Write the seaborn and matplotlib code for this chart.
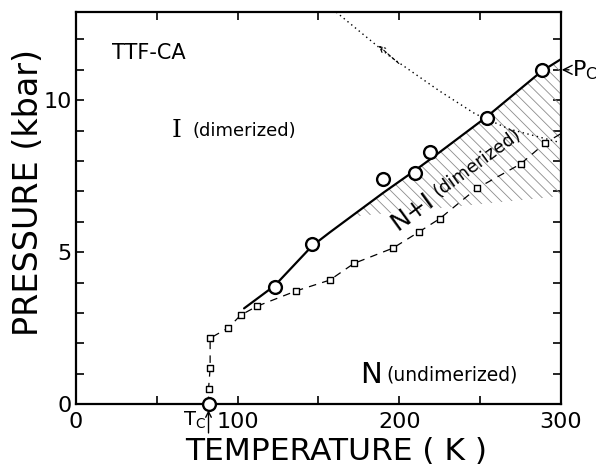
import numpy as np
import matplotlib
matplotlib.use("Agg")
import matplotlib.pyplot as plt
import seaborn as sns

# circles: I-N transition (kbar vs K)
circle_t = [82, 123, 146, 190, 210, 219, 254, 288]
circle_p = [0.0, 3.85, 5.26, 7.4, 7.6, 8.29, 9.41, 11.0]

# squares
square_t = [82, 83, 83, 94, 102, 112, 136, 157, 172, 196, 212, 225, 248, 275, 290]
square_p = [0.49, 1.18, 2.17, 2.5, 2.93, 3.22, 3.72, 4.08, 4.63, 5.13, 5.66, 6.1, 7.1, 7.9, 8.58]

# solid boundary
solid_t = [104, 123, 146, 157, 190, 210, 219, 254, 288, 300]
solid_p = [3.15, 3.9, 5.2, 5.65, 6.95, 7.7, 8.05, 9.45, 10.95, 11.35]

# dashed line through squares
dash_t = [82, 82, 83, 83, 94, 102, 112, 136, 157, 172, 196, 212, 225, 248, 275, 290, 300]
dash_p = [0.0, 0.49, 1.18, 2.17, 2.5, 2.93, 3.22, 3.72, 4.08, 4.63, 5.13, 5.66, 6.1, 7.1, 7.9, 8.58, 8.9]

# dotted line
dot_t = [161, 194, 225, 247, 268, 300]
dot_p = [12.9, 11.45, 10.3, 9.55, 9.05, 8.6]

# hatched N+I region
hatch_t = [168, 190, 210, 219, 254, 288, 300]
hatch_lo = [6.15, 6.27, 6.37, 6.42, 6.6, 6.78, 6.85]

sns.set_style("ticks", {"axes.edgecolor": "black", "text.color": "black",
                        "xtick.color": "black", "ytick.color": "black",
                        "axes.labelcolor": "black"})
plt.rcParams['font.family'] = ['DejaVu Sans']
plt.rcParams['hatch.linewidth'] = 0.6

fig = plt.figure(figsize=(5.98, 4.65), dpi=100)
ax = fig.add_axes([0.127, 0.131, 0.811, 0.843])

hatch_hi = np.interp(hatch_t, solid_t, solid_p)
ax.fill_between(hatch_t, hatch_lo, hatch_hi, facecolor="none", edgecolor="0.55",
                hatch="\\\\\\", linewidth=0)

sns.lineplot(x=solid_t, y=solid_p, ax=ax, color="black", lw=1.6, sort=False, estimator=None)
sns.lineplot(x=dash_t, y=dash_p, ax=ax, color="black", lw=0.9, sort=False, estimator=None,
             linestyle=(0, (6, 5)))
sns.lineplot(x=dot_t, y=dot_p, ax=ax, color="black", lw=1.0, sort=False, estimator=None,
             linestyle=(0, (1, 2.5)))

sns.scatterplot(x=square_t, y=square_p, ax=ax, marker="s", s=22, facecolor="white",
                edgecolor="black", linewidth=1.0, zorder=4)
sns.scatterplot(x=circle_t, y=circle_p, ax=ax, marker="o", s=85, facecolor="white",
                edgecolor="black", linewidth=1.7, zorder=5, clip_on=False)

# small dashed arrow on the dotted curve
ax.annotate("", xy=(186, 11.85), xytext=(201, 11.15),
            arrowprops=dict(arrowstyle="->", color="black", lw=0.8, linestyle=(0, (3, 2))))

ax.set_xlim(0, 300)
ax.set_ylim(0, 12.9)
ax.set_xticks([0, 100, 200, 300])
ax.set_xticks([50, 150, 250], minor=True)
ax.set_yticks([0, 5, 10])
ax.set_yticks([1, 2, 3, 4, 6, 7, 8, 9, 11, 12], minor=True)
ax.tick_params(which="both", direction="in", top=True, right=True, length=6, width=1.2)
ax.tick_params(axis="x", labelsize=16, pad=6)
ax.tick_params(axis="y", labelsize=16, pad=3)
for sp in ax.spines.values():
    sp.set_linewidth(1.6)

# texts
ax.text(22, 11.55, "TTF-CA", fontsize=15, va="center", ha="left")
ax.text(62, 9.0, "I", fontsize=18, family="DejaVu Serif", va="center", ha="center")
ax.text(72, 9.0, "(dimerized)", fontsize=13, va="center", ha="left")
ax.text(176, 0.95, "N", fontsize=21, va="center", ha="left")
ax.text(192, 0.95, "(undimerized)", fontsize=13.5, va="center", ha="left")
ax.text(208, 6.35, "N+I", fontsize=18, rotation=36, va="center", ha="center",
        rotation_mode="anchor")
ax.text(248, 7.95, "(dimerized)", fontsize=13, rotation=36, va="center", ha="center",
        rotation_mode="anchor")

ax.annotate("P$_\\mathrm{C}$", xy=(300.5, 11.0), xytext=(307, 11.0), fontsize=16,
            va="center", ha="left", annotation_clip=False,
            arrowprops=dict(arrowstyle="->", color="black", lw=1.0, shrinkA=0, shrinkB=0))
ax.annotate("", xy=(82, -0.2), xytext=(82, -0.95), annotation_clip=False,
            arrowprops=dict(arrowstyle="->", color="black", lw=1.0, shrinkA=0, shrinkB=0))
ax.text(73, -0.55, "T$_\\mathrm{C}$", fontsize=14, va="center", ha="center")

fig.text(0.562, 0.028, "TEMPERATURE ( K )", fontsize=22.5, ha="center", va="center")
fig.text(0.047, 0.585, "PRESSURE (kbar)", fontsize=24, ha="center", va="center",
         rotation=90)

fig.savefig("out.png", dpi=100)
